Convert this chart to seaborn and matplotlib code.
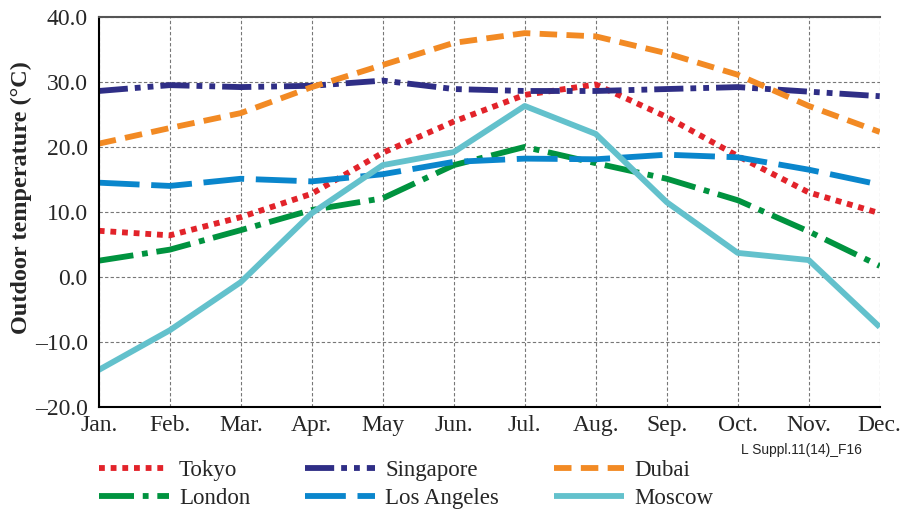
import matplotlib
matplotlib.use('Agg')

import pandas as pd
import matplotlib.pyplot as plt
import seaborn as sns
from matplotlib.ticker import FuncFormatter

# Données
months = ["Jan.", "Feb.", "Mar.", "Apr.", "May", "Jun.",
          "Jul.", "Aug.", "Sep.", "Oct.", "Nov.", "Dec."]
tokyo = [7.1, 6.4, 9.2, 12.8, 19.1, 23.9, 28.0, 29.6, 24.6, 18.6, 13.0, 9.8]
singapore = [28.6, 29.5, 29.2, 29.4, 30.2, 28.9, 28.6, 28.6, 28.9, 29.2, 28.5, 27.8]
dubai = [20.5, 22.9, 25.2, 29.2, 32.6, 36.0, 37.5, 37.0, 34.4, 31.1, 26.3, 22.3]
los_angeles = [14.5, 14.0, 15.1, 14.7, 15.8, 17.7, 18.2, 18.1, 18.8, 18.4, 16.5, 14.2]
london = [2.5, 4.2, 7.2, 10.3, 12.1, 17.2, 20.0, 17.5, 15.1, 11.8, 7.0, 1.7]
moscow = [-14.3, -8.2, -0.8, 9.8, 17.2, 19.2, 26.3, 22.0, 11.5, 3.7, 2.6, -7.7]

cities = {
    "Tokyo": tokyo,
    "Singapore": singapore,
    "Dubai": dubai,
    "London": london,
    "Los Angeles": los_angeles,
    "Moscow": moscow,
}

colors = {
    "Tokyo": "#e2232a",
    "Singapore": "#2f2e86",
    "Dubai": "#f28a24",
    "London": "#00933f",
    "Los Angeles": "#0a86cc",
    "Moscow": "#63c1cc",
}
dashes = {
    "Tokyo": (1, 1),
    "Singapore": (5, 1.2, 1, 1.2, 1, 1.2),
    "Dubai": (3, 1.6),
    "London": (6, 1.5, 1, 1.5),
    "Los Angeles": (7, 2),
    "Moscow": "",
}

rows = []
for name, vals in cities.items():
    for i, v in enumerate(vals):
        rows.append({"month": i + 1, "temp": v, "city": name})
df = pd.DataFrame(rows)

sns.set_style("white")
plt.rcParams['font.family'] = ['Liberation Serif', 'DejaVu Serif']

fig = plt.figure(figsize=(9.06, 5.11), dpi=100)
ax = fig.add_axes([0.109, 0.2035, 0.862, 0.7635])

sns.lineplot(data=df, x="month", y="temp", hue="city", style="city",
             palette=colors, dashes=dashes, linewidth=4.2, ax=ax)
for line in ax.get_lines():
    line.set_solid_capstyle('butt')
    line.set_dash_capstyle('butt')

ax.set_xlim(1, 12)
ax.set_ylim(-20, 40)
ax.set_xticks(range(1, 13))
ax.set_xticklabels(months)
ax.set_yticks(range(-20, 41, 10))
ax.yaxis.set_major_formatter(FuncFormatter(lambda v, p: f"{v:.1f}".replace("-", "\u2013")))
ax.tick_params(axis='both', length=0, labelsize=17)
ax.tick_params(axis='x', pad=6)
ax.tick_params(axis='y', pad=8)

ax.set_xlabel("")
ax.set_ylabel("Outdoor temperature (°C)", fontsize=17.5, fontweight='bold')
ax.yaxis.set_label_coords(-0.086, 0.536)

ax.grid(True, color="#777777", linestyle=(0, (3, 2)), linewidth=0.8)
ax.set_axisbelow(True)
for side in ["left", "bottom"]:
    ax.spines[side].set_color("black")
    ax.spines[side].set_linewidth(1.5)
ax.spines["top"].set_color("#555555")
ax.spines["top"].set_linewidth(1.5)
ax.spines["right"].set_visible(False)

# Légende réordonnée (remplissage colonne par colonne)
handles, labels = ax.get_legend_handles_labels()
lookup = dict(zip(labels, handles))
order = ["Tokyo", "London", "Singapore", "Los Angeles", "Dubai", "Moscow"]
ax.legend([lookup[k] for k in order], order, ncol=3, frameon=False,
          loc="upper left", bbox_to_anchor=(99 / 906, 1 - 460 / 511),
          bbox_transform=fig.transFigure, fontsize=16.5, handlelength=3.05,
          handletextpad=0.44, columnspacing=2.4, labelspacing=0.29,
          borderpad=0, borderaxespad=0)

fig.text(862 / 906, 1 - 450 / 511, "L Suppl.11(14)_F16", ha="right", va="center",
         fontsize=10, family=["Liberation Sans Narrow", "Liberation Sans", "DejaVu Sans"])

fig.savefig("out.png", dpi=100)
plt.close(fig)
